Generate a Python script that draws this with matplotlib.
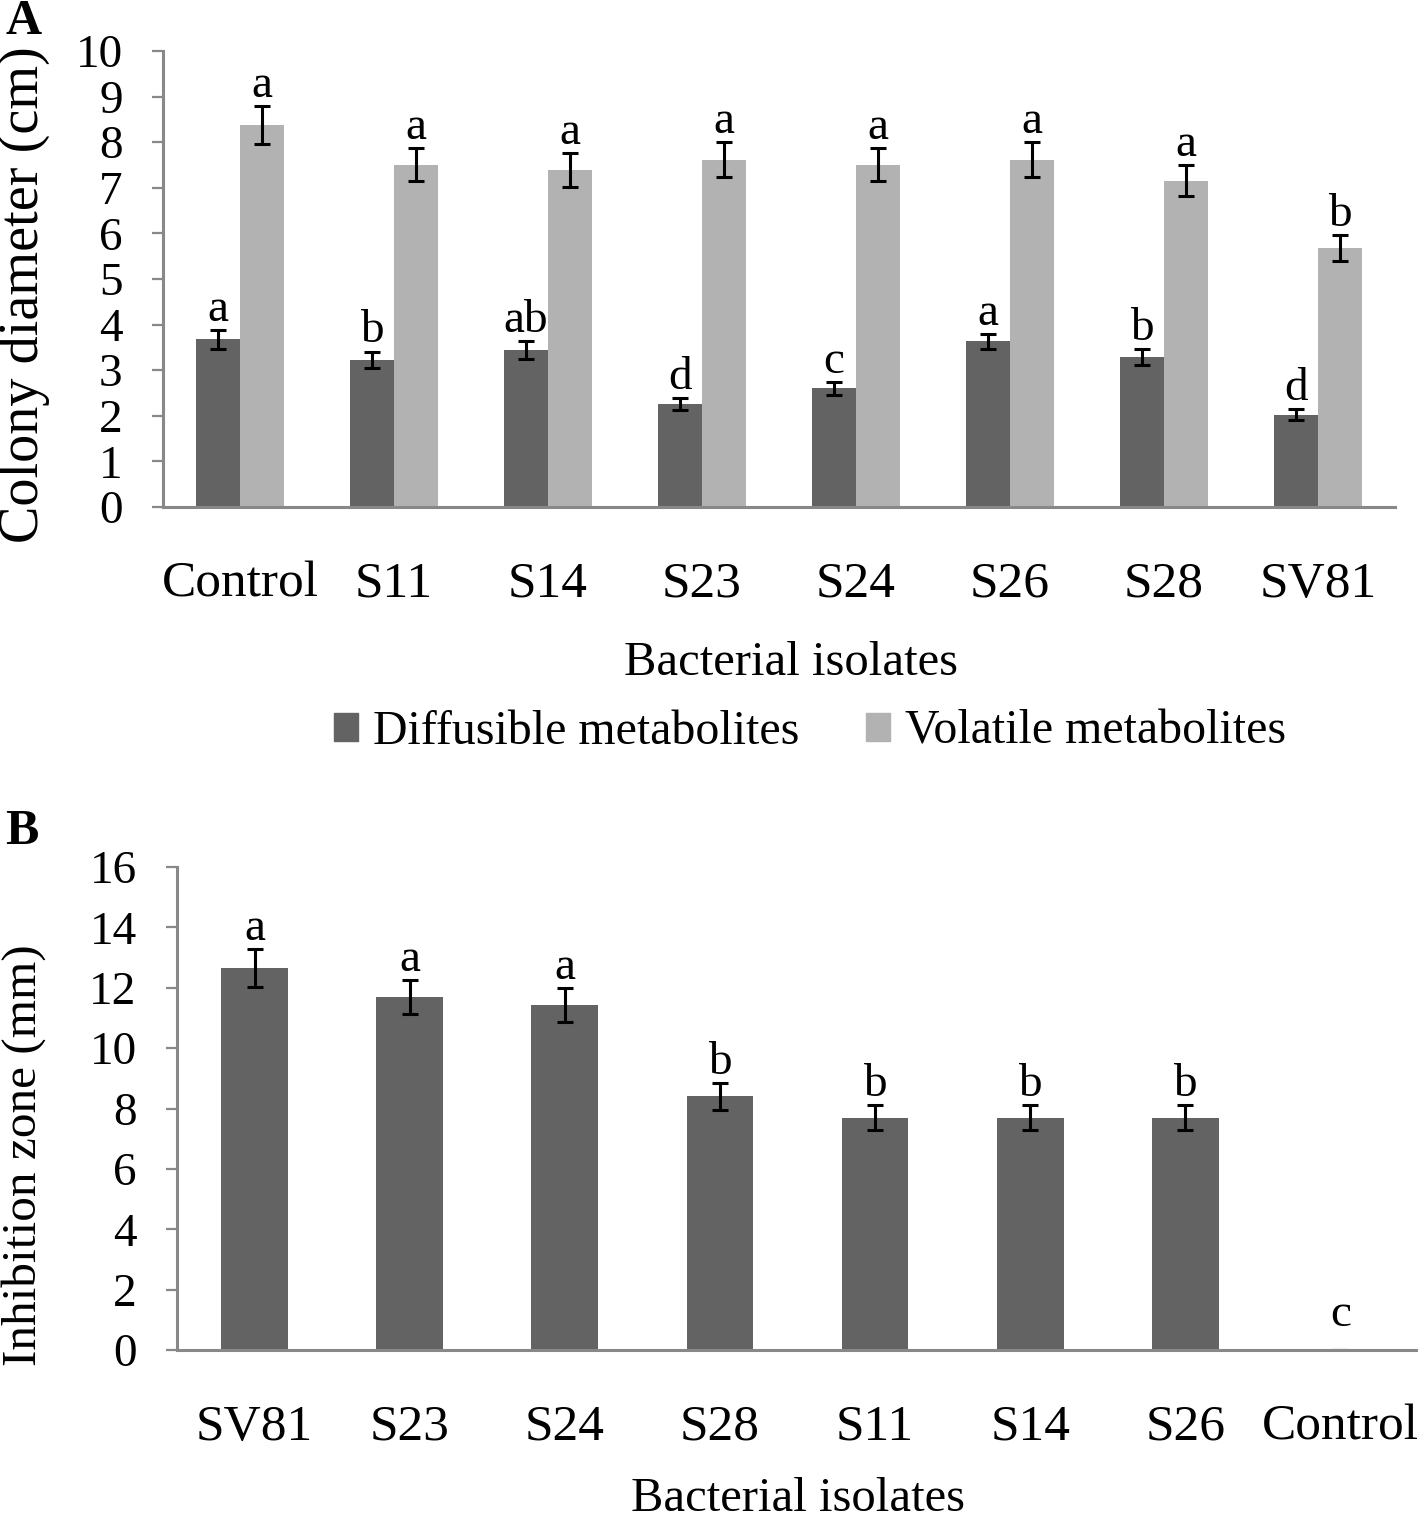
import matplotlib

matplotlib.use("Agg")
import matplotlib.pyplot as plt
import numpy as np
from matplotlib.patches import Patch

plt.rcParams["font.family"] = ["Liberation Serif", "DejaVu Serif"]

# panel A: colony diameter (cm)
isolates_a = ["Control", "S11", "S14", "S23", "S24", "S26", "S28", "SV81"]
diffusible = [3.68, 3.23, 3.45, 2.26, 2.60, 3.63, 3.29, 2.02]
diffusible_err = [0.21, 0.18, 0.20, 0.13, 0.15, 0.17, 0.17, 0.12]
diffusible_lab = ["a", "b", "ab", "d", "c", "a", "b", "d"]
volatile = [8.37, 7.51, 7.39, 7.62, 7.51, 7.62, 7.16, 5.68]
volatile_err = [0.42, 0.37, 0.38, 0.38, 0.37, 0.38, 0.35, 0.29]
volatile_lab = ["a", "a", "a", "a", "a", "a", "a", "b"]

# panel B: inhibition zone (mm)
isolates_b = ["SV81", "S23", "S24", "S28", "S11", "S14", "S26", "Control"]
inhibition = [12.65, 11.69, 11.43, 8.40, 7.70, 7.70, 7.70, 0.0]
inhibition_err = [0.62, 0.56, 0.57, 0.44, 0.40, 0.40, 0.40, 0.0]
inhibition_lab = ["a", "a", "a", "b", "b", "b", "b", "c"]

DARK = "#636363"
LIGHT = "#b2b2b2"
AXIS = "#888888"
FS = 34      # y ticks, letters
FS_X = 37    # category labels

W, H = 1418, 1521
fig = plt.figure(figsize=(W / 100, H / 100), dpi=100)


def px_axes(left, top, right, bottom):
    return fig.add_axes([left / W, 1 - bottom / H, (right - left) / W, (bottom - top) / H])


def style_axes(ax):
    for s in ["top", "right"]:
        ax.spines[s].set_visible(False)
    for s in ["left", "bottom"]:
        ax.spines[s].set_color(AXIS)
        ax.spines[s].set_linewidth(2.2)
    ax.tick_params(axis="y", length=8, width=1.6, color=AXIS, labelsize=FS, pad=21)
    ax.tick_params(axis="x", length=0, labelsize=FS_X, pad=39)


def put_letters(ax, xs, tops, labels):
    for x, t, lab in zip(xs, tops, labels):
        off = 6.5 if t > 0 else 17
        ax.annotate(lab, (x, t), xytext=(0, off), textcoords="offset points",
                    ha="center", va="baseline", fontsize=FS)


ekw = dict(ecolor="black", elinewidth=2.2, capsize=6, capthick=2.2)

# ---- A ----
axa = px_axes(163, 51, 1395, 507)
x = np.arange(len(isolates_a))
w = 0.285
axa.bar(x - w / 2, diffusible, w, color=DARK, yerr=diffusible_err, error_kw=ekw)
axa.bar(x + w / 2, volatile, w, color=LIGHT, yerr=volatile_err, error_kw=ekw)
put_letters(axa, x - w / 2, np.add(diffusible, diffusible_err), diffusible_lab)
put_letters(axa, x + w / 2, np.add(volatile, volatile_err), volatile_lab)
axa.set_xlim(-0.5, len(isolates_a) - 0.5)
axa.set_ylim(0, 10)
axa.set_yticks(range(0, 11))
axa.set_xticks(x)
axa.set_xticklabels(isolates_a)
style_axes(axa)

fig.text(24 / W, 1 - 295 / H, "Colony diameter (cm)", rotation=90, ha="center", va="center", fontsize=40.5)
fig.text(791 / W, 1 - 663 / H, "Bacterial isolates", ha="center", va="center", fontsize=35)
fig.text(5 / W, 1 - 22 / H, "A", ha="left", va="center", fontsize=36, fontweight="bold")

handles = [Patch(color=DARK), Patch(color=LIGHT)]
fig.legend(handles, ["Diffusible metabolites", "Volatile metabolites"], loc="center",
           bbox_to_anchor=(810 / W, 1 - 732 / H), ncol=2, frameon=False, fontsize=34.5,
           handlelength=0.5, handleheight=0.5, handletextpad=0.3, columnspacing=1.4)

# ---- B ----
axb = px_axes(177, 867, 1418, 1350)
xb = np.arange(len(isolates_b))
axb.bar(xb, inhibition, 0.43, color=DARK, yerr=inhibition_err, error_kw=ekw)
put_letters(axb, xb, np.add(inhibition, inhibition_err), inhibition_lab)
axb.set_xlim(-0.5, len(isolates_b) - 0.5)
axb.set_ylim(0, 16)
axb.set_yticks(range(0, 17, 2))
axb.set_xticks(xb)
axb.set_xticklabels(isolates_b)
style_axes(axb)

fig.text(24 / W, 1 - 1155 / H, "Inhibition zone (mm)", rotation=90, ha="center", va="center", fontsize=35.5)
fig.text(798 / W, 1 - 1499 / H, "Bacterial isolates", ha="center", va="center", fontsize=35)
fig.text(5 / W, 1 - 832 / H, "B", ha="left", va="center", fontsize=36, fontweight="bold")

fig.savefig("out.png", dpi=100)
